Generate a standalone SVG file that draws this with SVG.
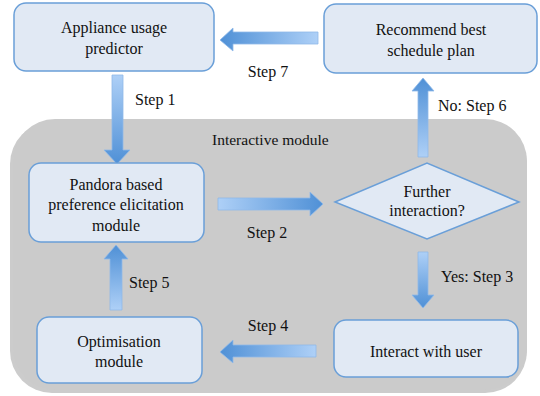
<svg xmlns="http://www.w3.org/2000/svg" width="540" height="396" viewBox="0 0 540 396">
<defs>
<linearGradient id="gR" x1="0" y1="0" x2="1" y2="0"><stop offset="0" stop-color="#aed0f7"/><stop offset="1" stop-color="#4f90d6"/></linearGradient>
<linearGradient id="gL" x1="1" y1="0" x2="0" y2="0"><stop offset="0" stop-color="#aed0f7"/><stop offset="1" stop-color="#4f90d6"/></linearGradient>
<linearGradient id="gD" x1="0" y1="0" x2="0" y2="1"><stop offset="0" stop-color="#aed0f7"/><stop offset="1" stop-color="#4f90d6"/></linearGradient>
<linearGradient id="gU" x1="0" y1="1" x2="0" y2="0"><stop offset="0" stop-color="#aed0f7"/><stop offset="1" stop-color="#4f90d6"/></linearGradient>
</defs>
<style>
text{fill:#111;font-family:"Liberation Serif","Times New Roman",serif;font-size:16px;}
.c{text-anchor:middle;}
.box{fill:#e1e9f4;stroke:#6a9fd8;stroke-width:1.5;}
.arr{stroke:#8fb9e8;stroke-width:0.8;}
</style>
<rect x="10" y="122" width="517" height="271" rx="42" fill="#9a9a9a" opacity="0.5"/>
<rect id="interactive-module" x="13" y="119" width="514" height="271" rx="42" fill="#cbcbcb"/>
<text x="212" y="145" style="font-size:15.5px">Interactive module</text>
<g id="connectors">
<path class="arr" fill="url(#gL)" d="M318,32 L233,32 L233,28 L220,40 L233,51 L233,44 L318,44 Z"/>
<path class="arr" fill="url(#gD)" d="M112,75 L123,75 L123,150 L130,150 L117,164 L104,150 L112,150 Z"/>
<path class="arr" fill="url(#gR)" d="M218,198 L310,198 L310,192 L323,204 L310,216 L310,210 L218,210 Z"/>
<path class="arr" fill="url(#gU)" d="M418,157 L428,157 L428,91 L434,91 L423,78 L412,91 L418,91 Z"/>
<path class="arr" fill="url(#gD)" d="M418,252 L428,252 L428,295 L434,295 L423,308 L412,295 L418,295 Z"/>
<path class="arr" fill="url(#gL)" d="M316,345 L233,345 L233,340 L220,352 L233,363 L233,357 L316,357 Z"/>
<path class="arr" fill="url(#gU)" d="M110,310 L122,310 L122,259 L128,259 L116,245 L104,259 L110,259 Z"/>
<text x="268" y="77" class="c">Step 7</text>
<text x="135" y="105">Step 1</text>
<text x="267" y="238" class="c">Step 2</text>
<text x="438" y="111">No: Step 6</text>
<text x="441" y="282">Yes: Step 3</text>
<text x="268" y="331" class="c">Step 4</text>
<text x="129" y="288">Step 5</text>
</g>
<g id="appliance">
<rect class="box" x="14" y="3" width="200" height="68" rx="12"/>
<text x="114" y="33" class="c">Appliance usage</text>
<text x="114" y="54" class="c">predictor</text>
</g>
<g id="recommend">
<rect class="box" x="324" y="4" width="213" height="69" rx="12"/>
<text x="431" y="35" class="c">Recommend best</text>
<text x="431" y="56" class="c">schedule plan</text>
</g>
<g id="pandora">
<rect class="box" x="29" y="163" width="175" height="79" rx="12"/>
<text x="116" y="190" class="c">Pandora based</text>
<text x="116" y="210" class="c">preference elicitation</text>
<text x="116" y="231" class="c">module</text>
</g>
<g id="further">
<polygon class="box" points="335,202 427,163 519,202 427,239"/>
<text x="427" y="197" class="c">Further</text>
<text x="427" y="216" class="c">interaction?</text>
</g>
<g id="interact">
<rect class="box" x="334" y="320" width="184" height="57" rx="12"/>
<text x="426" y="357" class="c">Interact with user</text>
</g>
<g id="optimisation">
<rect class="box" x="37" y="317" width="165" height="66" rx="12"/>
<text x="119" y="347" class="c">Optimisation</text>
<text x="119" y="367" class="c">module</text>
</g>
</svg>
